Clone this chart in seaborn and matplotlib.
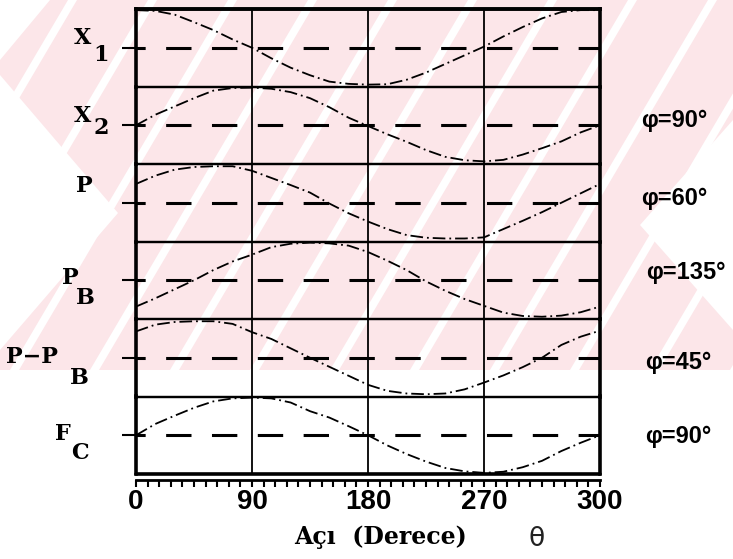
import pandas as pd
import matplotlib
matplotlib.use('Agg')
import matplotlib.pyplot as plt
import seaborn as sns
from matplotlib.patches import Polygon, Rectangle
from matplotlib.ticker import MultipleLocator

# acilar (derece) ve okunan egri degerleri (genlige gore normalize)
theta_deg = [0, 15, 30, 45, 60, 75, 90, 105, 120, 135, 150, 165, 180,
             195, 210, 225, 240, 255, 270, 285, 300, 315, 330, 345, 360]

x1 = [1.0, 0.98, 0.88, 0.68, 0.47, 0.22, 0.0, -0.28, -0.53, -0.73, -0.9, -0.96, -0.98,
      -0.97, -0.85, -0.66, -0.43, -0.2, 0.03, 0.3, 0.55, 0.78, 0.95, 1.0, 1.0]
x2 = [0.0, 0.28, 0.5, 0.72, 0.92, 0.99, 1.0, 0.97, 0.88, 0.72, 0.48, 0.2, -0.02,
      -0.24, -0.44, -0.66, -0.84, -0.93, -0.96, -0.92, -0.78, -0.61, -0.43, -0.19, 0.0]
p = [0.5, 0.72, 0.88, 0.95, 0.97, 0.97, 0.85, 0.66, 0.47, 0.27, -0.02, -0.28, -0.5,
     -0.7, -0.86, -0.93, -0.95, -0.95, -0.92, -0.7, -0.48, -0.25, 0.0, 0.25, 0.5]
p_b = [-0.7, -0.48, -0.24, 0.0, 0.27, 0.5, 0.68, 0.88, 0.97, 1.0, 0.98, 0.92, 0.75,
       0.52, 0.27, -0.03, -0.28, -0.5, -0.68, -0.86, -0.95, -0.97, -0.94, -0.85, -0.7]
p_minus_pb = [0.7, 0.88, 0.95, 0.97, 0.97, 0.9, 0.68, 0.5, 0.25, 0.0, -0.24, -0.48, -0.72,
              -0.88, -0.95, -0.97, -0.95, -0.84, -0.66, -0.47, -0.25, 0.0, 0.34, 0.56, 0.72]
f_c = [0.0, 0.3, 0.52, 0.73, 0.9, 0.98, 1.0, 0.98, 0.87, 0.64, 0.47, 0.24, 0.0,
       -0.27, -0.5, -0.7, -0.87, -0.96, -1.0, -0.97, -0.85, -0.68, -0.42, -0.2, 0.0]

series = [x1, x2, p, p_b, p_minus_pb, f_c]
label_main = ['X', 'X', 'P', 'P', 'P\u2212P', 'F']
label_sub = ['1', '2', '', 'B', 'B', 'C']
phi_labels = ['', '\u03c6=90\u00b0', '\u03c6=60\u00b0', '\u03c6=135\u00b0', '\u03c6=45\u00b0', '\u03c6=90\u00b0']

xtick_pos = [0, 90, 180, 270, 360]
xtick_labels = ['0', '90', '180', '270', '300']

# yerlesim (piksel)
W, H = 733, 559
main_pos = [(83, 38), (83, 116), (84, 186), (70, 278), (32, 357), (63, 434)]
sub_pos = [(101, 55), (101, 128), None, (85, 298), (79, 378), (80, 453)]
phi_pos = [None, (674, 121), (674, 199), (686, 272), (678, 363), (678, 437)]


def fx(x):
    return x / W


def fy(y):
    return 1 - y / H


def add_poly(fig, pts, color):
    fig.patches.append(Polygon([(fx(a), fy(b)) for a, b in pts], closed=True,
                               transform=fig.transFigure, facecolor=color,
                               edgecolor='none', zorder=-9))


sns.set_theme(style='white')
plt.rcParams['font.family'] = ['DejaVu Serif', 'DejaVu Sans']

fig, axes = plt.subplots(6, 1, figsize=(W / 100, H / 100), dpi=100, sharex=True)
fig.subplots_adjust(left=fx(136), right=fx(600), top=fy(9), bottom=fy(474), hspace=0)

# filigran (arka plan)
pink = '#fce6e9'
fig.patches.append(Rectangle((0, fy(370)), 1, 1 - fy(370), transform=fig.transFigure,
                             facecolor=pink, edgecolor='none', zorder=-10))
for x0 in range(-230, 800, 80):
    add_poly(fig, [(x0, 370), (x0 + 9, 370), (x0 + 9 + 218, 0), (x0 + 218, 0)], 'white')
add_poly(fig, [(0, 0), (50, 0), (0, 60)], 'white')
add_poly(fig, [(0, 75), (118, 213), (0, 350)], 'white')
add_poly(fig, [(733, 120), (640, 225), (733, 330)], 'white')

for i, ax in enumerate(axes):
    ax.set_facecolor('none')
    df = pd.DataFrame({'aci': theta_deg, 'deger': series[i]})
    sns.lineplot(data=df, x='aci', y='deger', ax=ax, color='black', linewidth=1.3,
                 linestyle=(0, (7, 2.2, 1, 2.2)))
    ax.axhline(0, color='black', linewidth=2.2, linestyle=(5.3, (8.3, 6.7)))
    ax.set_xlim(0, 360)
    ax.set_ylim(-1.03, 1.03)
    ax.set(xlabel='', ylabel='')
    ax.set_yticks([0])
    ax.set_yticklabels([])
    ax.tick_params(axis='y', which='major', left=True, right=False, direction='out',
                   length=10, width=1.5, color='black')
    ax.set_xticks(xtick_pos)
    ax.xaxis.set_minor_locator(MultipleLocator(9))
    ax.xaxis.grid(True, which='major', color='black', linewidth=1.3)
    ax.tick_params(axis='x', which='both', bottom=False, labelbottom=False)
    for side in ['left', 'right']:
        ax.spines[side].set_linewidth(2.6)
        ax.spines[side].set_color('black')
    for side in ['top', 'bottom']:
        ax.spines[side].set_linewidth(1.6)
        ax.spines[side].set_color('black')

axes[0].spines['top'].set_linewidth(2.8)
last = axes[-1]
last.spines['bottom'].set_position(('outward', 4))
last.spines['bottom'].set_linewidth(2.0)
last.axhline(-1.03, color='black', linewidth=2.6, clip_on=False)
last.tick_params(axis='x', which='both', bottom=True, labelbottom=True, direction='out',
                 length=5, width=1.5, color='black', labelcolor='black', pad=1.5)
last.set_xticks(xtick_pos, labels=xtick_labels)
for lbl in last.get_xticklabels():
    lbl.set_fontfamily(['Liberation Sans', 'DejaVu Sans'])
    lbl.set_fontweight('bold')
    lbl.set_fontsize(20)
    lbl.set_color('black')

# sol ve sag etiketler
for i in range(6):
    mx, my = main_pos[i]
    fig.text(fx(mx), fy(my), label_main[i], ha='center', va='center',
             fontsize=16, fontweight='bold', color='black')
    if sub_pos[i] is not None:
        sx, sy = sub_pos[i]
        fig.text(fx(sx), fy(sy), label_sub[i], ha='center', va='center',
                 fontsize=16, fontweight='bold', color='black')
    if phi_pos[i] is not None:
        qx, qy = phi_pos[i]
        fig.text(fx(qx), fy(qy), phi_labels[i], ha='center', va='center',
                 fontsize=17, fontweight='bold', color='black',
                 family=['Liberation Sans', 'DejaVu Sans'])

fig.text(fx(380), fy(537), 'A\u00e7\u0131  (Derece)', ha='center', va='center',
         fontsize=17, fontweight='bold', color='black')
fig.text(fx(537), fy(539), '\u03b8', ha='center', va='center', fontsize=19,
         family=['DejaVu Sans'], color='#222222')

fig.savefig('out.png', dpi=100)
